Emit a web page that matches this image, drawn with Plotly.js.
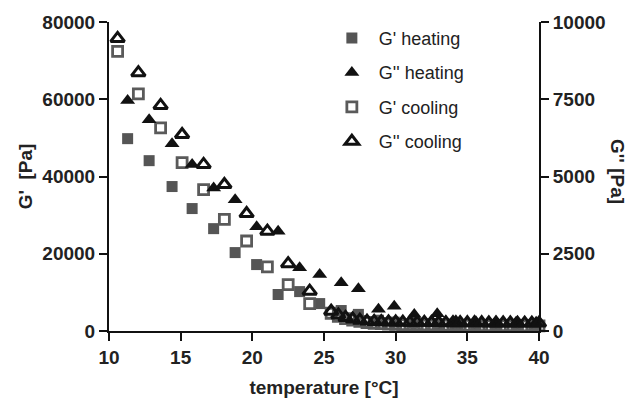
<!DOCTYPE html>
<html>
<head>
<meta charset="utf-8">
<script src="https://cdn.plot.ly/plotly-3.0.1.min.js"></script>
<style>html,body{margin:0;padding:0;background:#fff;}#chart{width:634px;height:406px;}</style>
</head>
<body>
<div id="chart"></div>
<script>
// Heating run
const heatT = [11.3, 12.8, 14.4, 15.8, 17.3, 18.8, 20.3, 21.8, 23.3, 24.7, 26.2, 27.4, 28.8, 29.9, 31.3, 32.9, 34.2, 35.6, 37.0, 38.4, 39.8];
const gPrimeHeating = [49800, 44100, 37400, 31700, 26500, 20300, 17200, 9450, 10200, 7100, 5300, 4300, 2800, 2300, 2000, 1900, 1800, 1700, 1700, 1700, 1700];
const gDoublePrimeHeating = [7460, 6840, 6060, 5390, 4630, 4250, 3370, 3230, 2050, 1830, 1560, 1370, 700, 800, 530, 560, 330, 300, 290, 280, 280];

// Cooling run
const coolT = [10.6, 12.05, 13.6, 15.1, 16.6, 18.05, 19.6, 21.05, 22.5, 24.0,
  25.5, 26.0, 26.5, 27.0, 27.5, 28.0, 28.5, 29.0, 29.5, 30.0,
  30.5, 31.0, 31.5, 32.0, 32.5, 33.0, 33.5, 34.0, 34.5, 35.0,
  35.5, 36.0, 36.5, 37.0, 37.5, 38.0, 38.5, 39.0, 39.5, 40.0];
const gPrimeCooling = [72400, 61400, 52600, 43600, 36600, 28900, 23300, 16600, 12000, 7100,
  4600, 3800, 3200, 2800, 2500, 2200, 2000, 1900, 1800, 1700,
  1650, 1600, 1600, 1550, 1550, 1500, 1500, 1500, 1450, 1450,
  1450, 1400, 1400, 1400, 1400, 1400, 1350, 1350, 1350, 1350];
const gDoublePrimeCooling = [9470, 8360, 7300, 6360, 5390, 4740, 3800, 3230, 2180, 1290,
  640, 520, 440, 390, 350, 320, 310, 300, 290, 290,
  285, 280, 280, 280, 275, 275, 270, 270, 270, 265,
  265, 265, 260, 260, 260, 260, 255, 255, 255, 255];

const seriesNames = ["G' heating", "G'' heating", "G' cooling", "G'' cooling"];
const xTicks = [10, 15, 20, 25, 30, 35, 40];
const leftTicks = [0, 20000, 40000, 60000, 80000];
const rightTicks = [0, 2500, 5000, 7500, 10000];

const FONT = "Liberation Sans, Arial, Helvetica, sans-serif";
const tickFont = {family: FONT, size: 19, color: '#222', weight: 'bold'};
const titleFont = {family: FONT, size: 19, color: '#222', weight: 'bold'};

const traces = [
  {x: heatT, y: gPrimeHeating, name: seriesNames[0], type: 'scatter', mode: 'markers', yaxis: 'y', legendgroup: 'a',
   marker: {symbol: 'square', size: 11, color: '#555555', line: {width: 0}}, cliponaxis: false},
  {x: heatT, y: gDoublePrimeHeating, name: seriesNames[1], type: 'scatter', mode: 'markers', yaxis: 'y2', legendgroup: 'b',
   marker: {symbol: 'triangle-up', size: 13, color: '#111111', line: {width: 0}}, cliponaxis: false},
  {x: coolT, y: gPrimeCooling, name: seriesNames[2], type: 'scatter', mode: 'markers', yaxis: 'y', legendgroup: 'c',
   marker: {symbol: 'square-open', size: 10, color: '#5a5a5a', line: {width: 2.8, color: '#5a5a5a'}}, cliponaxis: false},
  {x: coolT, y: gDoublePrimeCooling, name: seriesNames[3], type: 'scatter', mode: 'markers', yaxis: 'y2', legendgroup: 'd',
   marker: {symbol: 'triangle-up-open', size: 12, color: '#111111', line: {width: 3, color: '#111111'}}, cliponaxis: false}
];

const layout = {
  width: 634, height: 406,
  margin: {l: 109, r: 95, t: 22, b: 75, pad: 0},
  paper_bgcolor: '#ffffff', plot_bgcolor: '#ffffff',
  showlegend: true,
  legend: {x: 0.502, y: 1.007, xanchor: 'left', yanchor: 'top', bgcolor: 'rgba(0,0,0,0)', itemwidth: 44,
    font: {family: FONT, size: 18, color: '#222'}, tracegroupgap: 8, traceorder: 'grouped'},
  xaxis: {range: [10, 40], tickvals: xTicks, ticktext: xTicks.map(String), showgrid: false, zeroline: false,
    showline: true, linewidth: 2, linecolor: '#111', ticks: 'outside', ticklen: 8, tickwidth: 2, tickcolor: '#111',
    tickfont: tickFont, title: {text: 'temperature [°C]', font: titleFont, standoff: 14}},
  yaxis: {range: [0, 80000], tickvals: leftTicks, ticktext: leftTicks.map(String), showgrid: false, zeroline: false,
    showline: true, linewidth: 2, linecolor: '#111', ticks: 'outside', ticklen: 8, tickwidth: 2, tickcolor: '#111',
    tickfont: tickFont, title: {text: "G'  [Pa]", font: titleFont, standoff: 5}},
  yaxis2: {range: [0, 10000], tickvals: rightTicks, ticktext: rightTicks.map(String), overlaying: 'y', side: 'right',
    showgrid: false, zeroline: false, showline: true, linewidth: 2, linecolor: '#111', ticks: 'outside', ticklen: 8,
    tickwidth: 2, tickcolor: '#111', tickfont: tickFont},
  annotations: [{text: "G'' [Pa]", xref: 'paper', yref: 'paper', x: 1.181, y: 0.515, showarrow: false,
    textangle: 90, font: titleFont, xanchor: 'center', yanchor: 'middle'}]
};

Plotly.newPlot('chart', traces, layout, {displayModeBar: false, responsive: false});
</script>
</body>
</html>
